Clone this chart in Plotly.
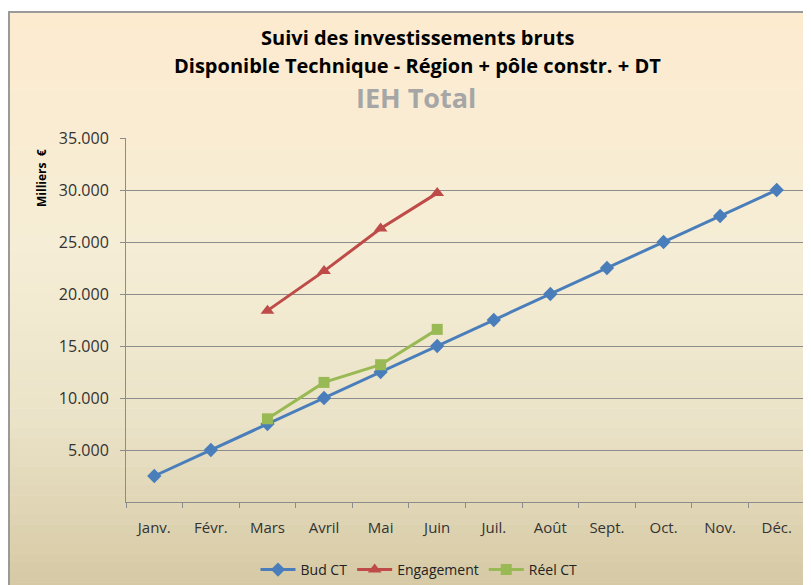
import plotly.graph_objects as go

months = ["Janv.", "Févr.", "Mars", "Avril", "Mai", "Juin", "Juil.", "Août", "Sept.", "Oct.", "Nov.", "Déc."]
bud_ct = [2500, 5000, 7500, 10000, 12500, 15000, 17500, 20000, 22500, 25000, 27500, 30000]
engagement = [None, None, 18400, 22200, 26300, 29700, None, None, None, None, None, None]
reel_ct = [None, None, 8000, 11500, 13200, 16600, None, None, None, None, None, None]
y_ticks = [5000, 10000, 15000, 20000, 25000, 30000, 35000]

# the page body has an 8px margin; figure coordinates = window coordinates - 8
OFF = 8
W, H = 811 - OFF, 585 - OFF
L, R, T, B = 126 - OFF, 6, 138 - OFF, 83
pw, ph = W - L - R, H - T - B

def px_x(x):
    return (x - OFF - L) / pw

def px_y(y):
    return (H - B - (y - OFF)) / ph

fig = go.Figure()
fig.add_trace(go.Scatter(x=months, y=bud_ct, name="Bud CT", mode="lines+markers",
                         line=dict(color="#4A7EBB", width=3),
                         marker=dict(symbol="diamond", size=11, color="#4A7EBB")))
fig.add_trace(go.Scatter(x=months, y=engagement, name="Engagement", mode="lines+markers",
                         line=dict(color="#BE4B48", width=3),
                         marker=dict(symbol="triangle-up", size=12, color="#BE4B48")))
fig.add_trace(go.Scatter(x=months, y=reel_ct, name="Réel CT", mode="lines+markers",
                         line=dict(color="#98B954", width=3),
                         marker=dict(symbol="square", size=11, color="#98B954")))

# gradient background stripes (window coordinates)
stops = [(12, (253, 235, 208)), (250, (245, 237, 213)), (420, (235, 227, 200)), (585, (214, 201, 164))]
shapes = []
n = 60
y0p = 12
for i in range(n):
    ya = y0p + (592 - y0p) * i / n
    yb = y0p + (592 - y0p) * (i + 1) / n + 0.5
    ym = min((ya + yb) / 2, 585)
    for j in range(len(stops) - 1):
        if stops[j][0] <= ym <= stops[j + 1][0]:
            t = (ym - stops[j][0]) / (stops[j + 1][0] - stops[j][0])
            c = tuple(int(round(stops[j][1][k] + t * (stops[j + 1][1][k] - stops[j][1][k]))) for k in range(3))
            break
    shapes.append(dict(type="rect", xref="paper", yref="paper", layer="below",
                       x0=px_x(8), x1=px_x(815), y0=px_y(yb), y1=px_y(ya),
                       fillcolor="rgb(%d,%d,%d)" % c, line=dict(width=0)))
# outer border lines (left and top)
shapes.append(dict(type="line", xref="paper", yref="paper", layer="below",
                   x0=px_x(9), x1=px_x(9), y0=px_y(595), y1=px_y(12),
                   line=dict(color="#9A9A9A", width=2)))
shapes.append(dict(type="line", xref="paper", yref="paper", layer="below",
                   x0=px_x(8), x1=px_x(815), y0=px_y(12), y1=px_y(12),
                   line=dict(color="#9A9A9A", width=2)))

font = "'Open Sans', Lato, sans-serif"
fig.update_layout(
    width=W, height=H,
    margin=dict(l=L, r=R, t=T, b=B, autoexpand=False),
    paper_bgcolor="white",
    plot_bgcolor="rgba(0,0,0,0)",
    separators=",.",
    shapes=shapes,
    font=dict(family=font, size=12, color="#222222"),
    showlegend=True,
    legend=dict(orientation="h", x=px_x(419), xanchor="center", y=px_y(570), yanchor="middle",
                font=dict(size=14, color="#222222"), bgcolor="rgba(0,0,0,0)",
                itemwidth=35, tracegroupgap=0),
    annotations=[
        dict(text="<b>Suivi des investissements bruts</b>", xref="paper", yref="paper",
             x=px_x(417), y=px_y(37), showarrow=False, xanchor="center", yanchor="middle",
             font=dict(size=20, color="#000000")),
        dict(text="<b>Disponible Technique - Région + pôle constr. + DT</b>", xref="paper", yref="paper",
             x=px_x(417), y=px_y(65), showarrow=False, xanchor="center", yanchor="middle",
             font=dict(size=20, color="#000000")),
        dict(text="<b>IEH Total</b>", xref="paper", yref="paper",
             x=px_x(416), y=px_y(98), showarrow=False, xanchor="center", yanchor="middle",
             font=dict(size=27, color="#A6A6A6")),
        dict(text="<b>Milliers  €</b>", xref="paper", yref="paper", textangle=-90,
             x=px_x(41), y=px_y(178), showarrow=False, xanchor="center", yanchor="middle",
             font=dict(size=12, color="#000000")),
    ],
)
fig.update_xaxes(type="category", categoryorder="array", categoryarray=months,
                 showgrid=False, showline=True, linecolor="#8C8C8C", linewidth=1,
                 ticks="outside", tickson="boundaries", ticklen=5, tickcolor="#8C8C8C",
                 ticklabelstandoff=12,
                 tickfont=dict(size=15, color="#333333"), range=[-0.5, 11.5], zeroline=False)
fig.update_yaxes(range=[0, 35000], tickvals=y_ticks, tickformat=",d",
                 showgrid=True, gridcolor="#8C8C8C", gridwidth=1,
                 showline=True, linecolor="#8C8C8C", linewidth=1,
                 ticks="outside", ticklen=5, tickcolor="#8C8C8C",
                 ticklabelstandoff=8,
                 tickfont=dict(size=16, color="#333333"), zeroline=False)

fig.write_html("out.html")
